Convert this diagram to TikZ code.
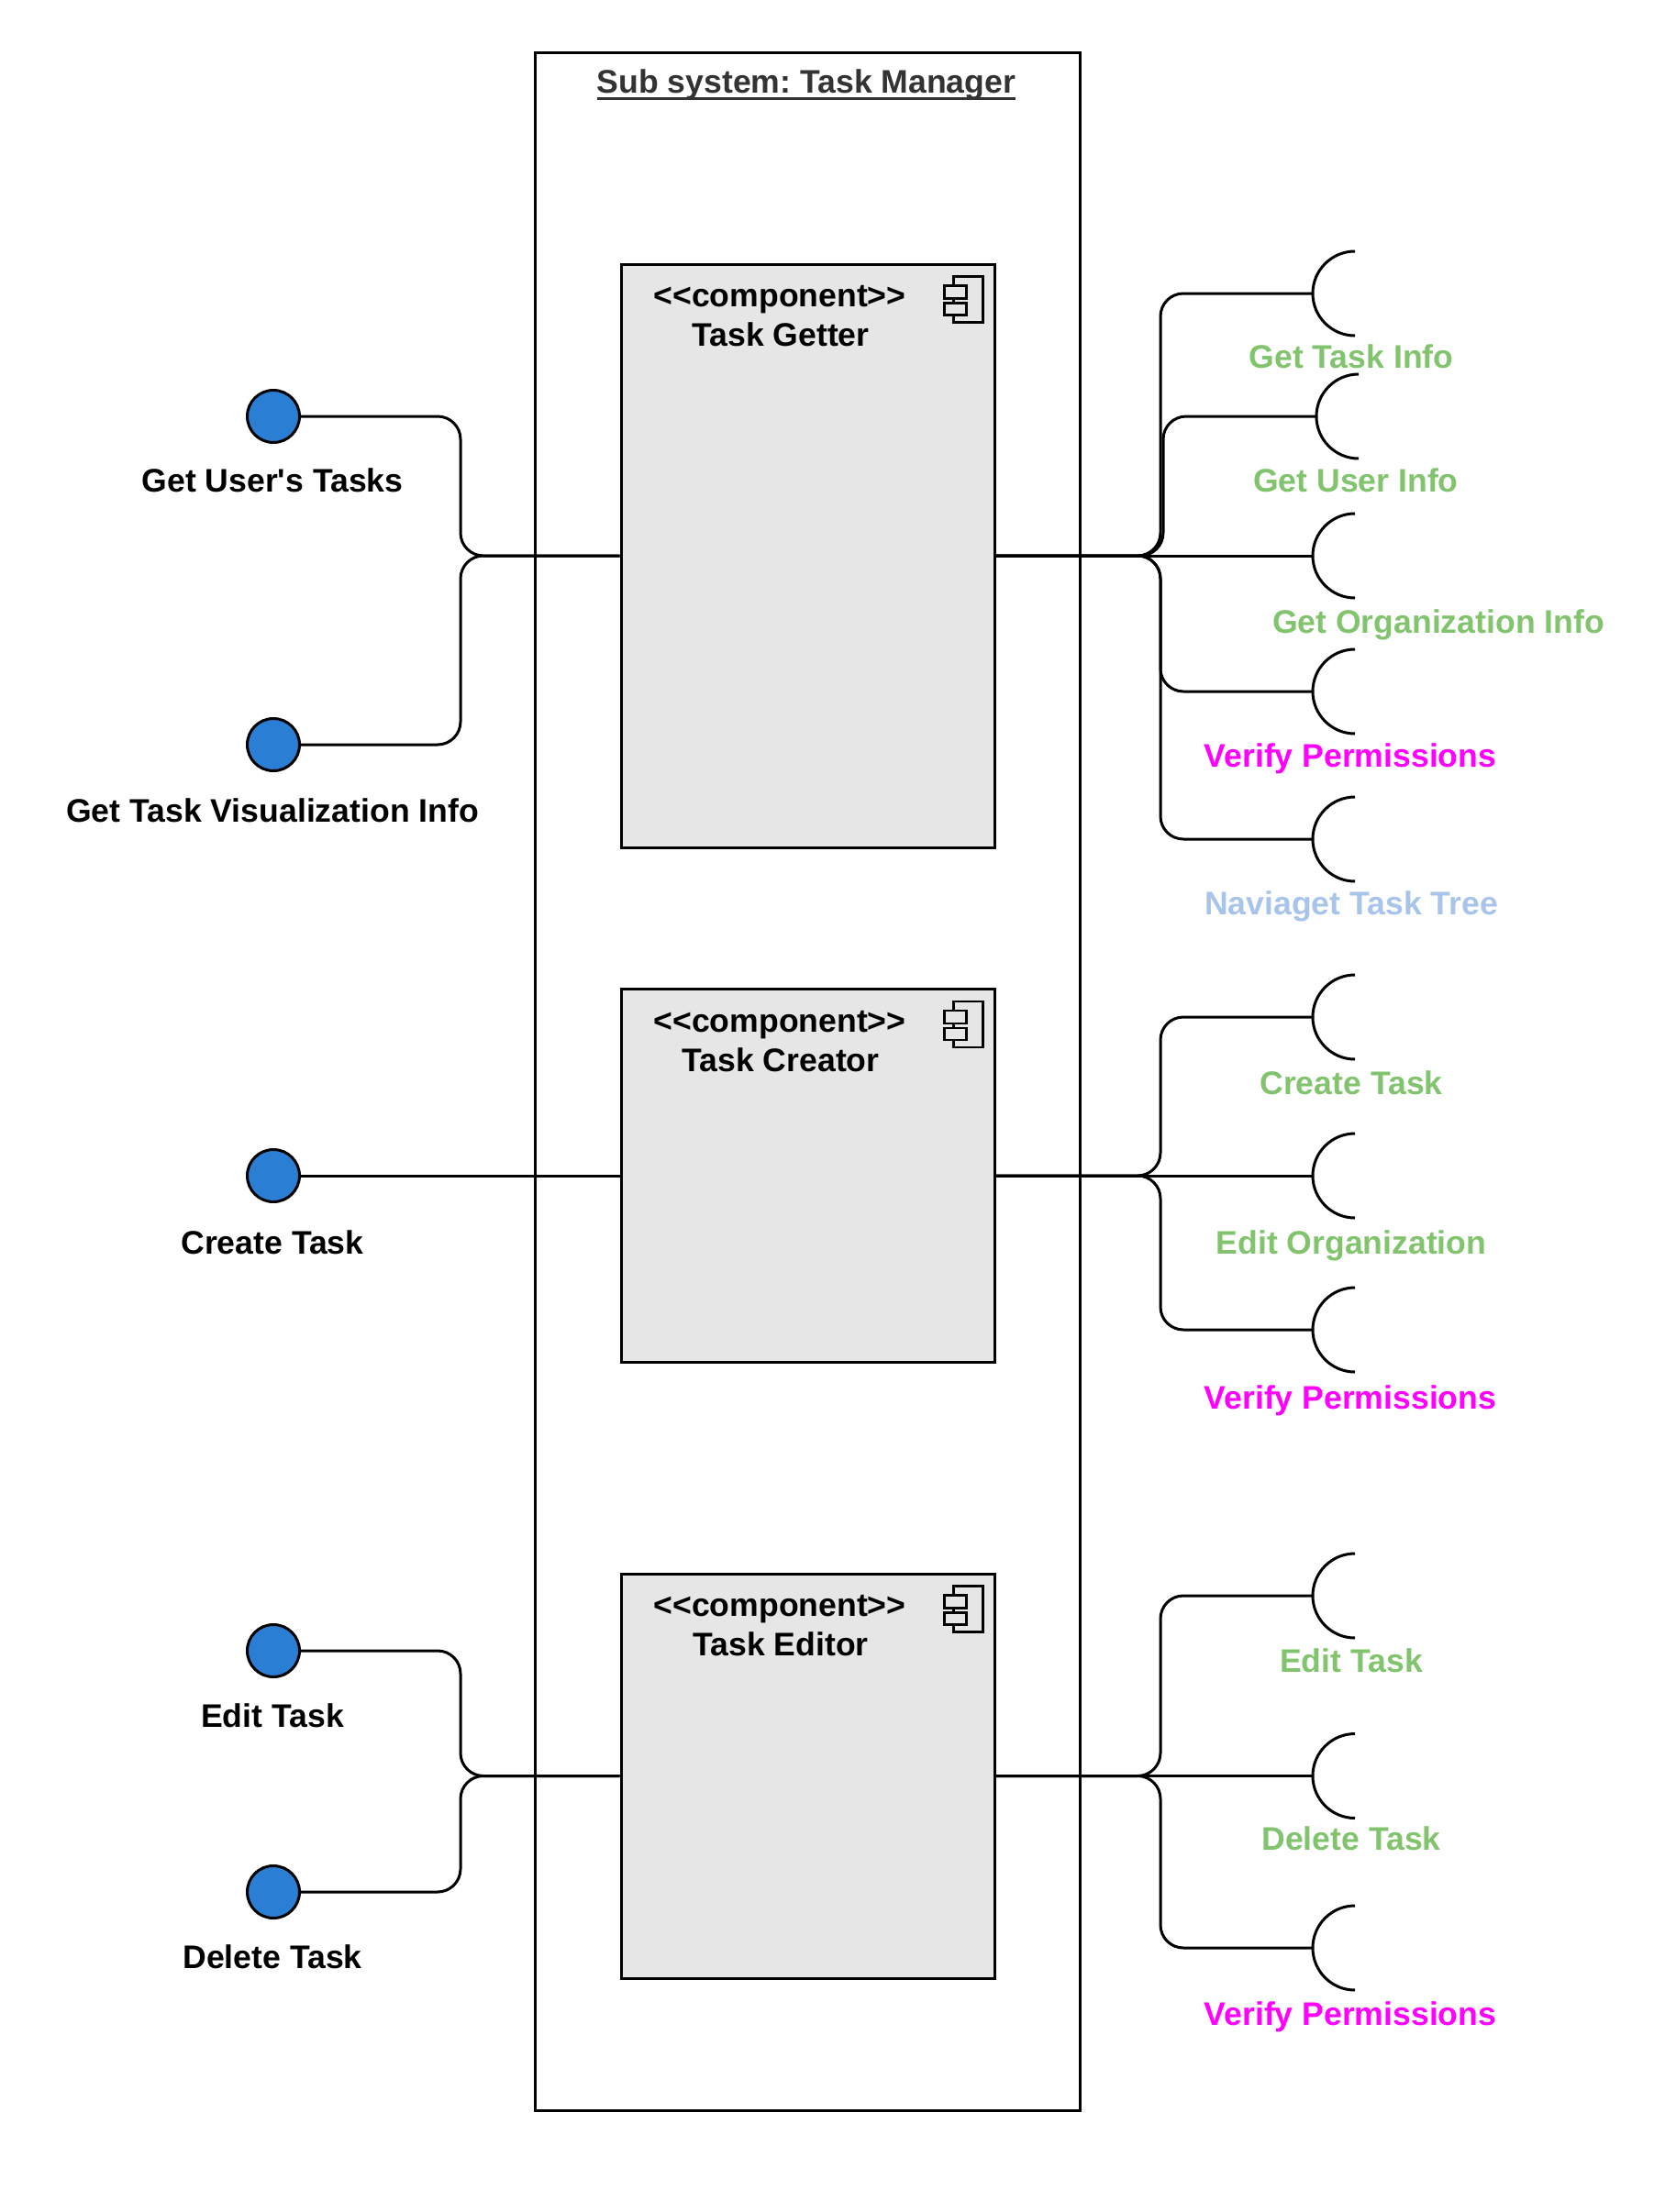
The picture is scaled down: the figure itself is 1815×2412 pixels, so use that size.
\documentclass[tikz,border=0pt]{standalone}
\usepackage{fontspec}
\newfontfamily\lsans{Liberation Sans}
\definecolor{grn}{RGB}{130,196,110}
\definecolor{mag}{RGB}{255,0,255}
\definecolor{lblue}{RGB}{169,196,235}
\definecolor{cblue}{RGB}{42,126,212}
\definecolor{cfill}{RGB}{230,230,230}
\definecolor{ttl}{RGB}{51,51,51}
\frenchspacing
\begin{document}
\begin{tikzpicture}[x=1pt,y=-1pt,
  txt/.style={font=\lsans\bfseries\fontsize{35.6}{42}\selectfont, inner sep=0pt, anchor=base},
  frame/.style={draw, line width=3pt, minimum width=594pt, minimum height=2244pt, inner sep=0pt},
  comp/.style={draw, line width=3pt, fill=cfill, minimum width=407pt, inner sep=0pt},
  port/.style={circle, draw, line width=3pt, fill=cblue, minimum size=57pt, inner sep=0pt},
  wire/.style={line width=3pt, rounded corners=25pt},
  sock/.style={line width=3pt},
  icon/.style={line width=2.5pt, fill=cfill},
  ]
\fill[white] (0,0) rectangle (1815,2412);
\useasboundingbox (0,0) rectangle (1815,2412);

% subsystem frame
\node[frame] (sys) at (880,1179) {};
\node[txt, text=ttl] (title) at (879,101) {Sub system: Task Manager};
\draw[line width=3pt, ttl] ([yshift=-6pt]title.base west) -- ([yshift=-6pt]title.base east);

% components
\node[comp, minimum height=636pt] (c1) at (880.5,606) {};
\node[comp, minimum height=407pt] (c2) at (880.5,1282) {};
\node[comp, minimum height=441pt] (c3) at (880.5,1936.5) {};

\foreach \c/\name in {c1/Task Getter, c2/Task Creator, c3/Task Editor}{
  \node[txt] (\c s) at ([xshift=-30.5pt,yshift=-48pt]\c.north) {<\kern0pt<component>\kern0pt>};
  \node[txt] (\c n) at ([xshift=-29.5pt,yshift=-91pt]\c.north) {\name};
  \draw[icon] ([xshift=-46pt,yshift=-15pt]\c.north east) rectangle ([xshift=-14pt,yshift=-65pt]\c.north east);
  \draw[icon] ([xshift=-56pt,yshift=-25pt]\c.north east) rectangle ([xshift=-32pt,yshift=-39pt]\c.north east);
  \draw[icon] ([xshift=-56pt,yshift=-44pt]\c.north east) rectangle ([xshift=-32pt,yshift=-57pt]\c.north east);
}

% provided interfaces (left)
\node[port] (p1) at (298,454) {};
\node[port] (p2) at (298,812) {};
\node[port] (p3) at (298,1282) {};
\node[port] (p4) at (298,1800) {};
\node[port] (p5) at (298,2063) {};
\node[txt] (lp1) at (297,536) {Get User's Tasks};
\node[txt] (lp2) at (297,896) {Get Task Visualization Info};
\node[txt] (lp3) at (297,1367) {Create Task};
\node[txt] (lp4) at (297,1883) {Edit Task};
\node[txt] (lp5) at (297,2146) {Delete Task};

\draw[wire] (p1.east) -- (502,454) |- (c1.west);
\draw[wire] (p2.east) -- (502,812) |- (c1.west);
\draw[wire] (p3.east) -- (c2.west);
\draw[wire] (p4.east) -- (502,1800) |- (c3.west);
\draw[wire] (p5.east) -- (502,2063) |- (c3.west);

% required interfaces (right)
\coordinate (s11) at (1431,320);
\coordinate (s12) at (1435,454);
\coordinate (s13) at (1431,606);
\coordinate (s14) at (1431,754);
\coordinate (s15) at (1431,915);
\coordinate (s21) at (1431,1109);
\coordinate (s22) at (1431,1282);
\coordinate (s23) at (1431,1450);
\coordinate (s31) at (1431,1740);
\coordinate (s32) at (1431,1936.5);
\coordinate (s33) at (1431,2124);

\foreach \s in {s11,s12,s13,s14,s15,s21,s22,s23,s31,s32,s33}{
  \draw[sock] (\s) arc[start angle=180, end angle=90, radius=46pt]
              (\s) arc[start angle=180, end angle=270, radius=46pt];
}

\draw[wire] (c1.east) -- (1265,606) |- (s11);
\draw[wire] (c1.east) -- (1268,606) |- (s12);
\draw[wire] (c1.east) -- (s13);
\draw[wire] (c1.east) -- (1265,606) |- (s14);
\draw[wire] (c1.east) -- (1265,606) |- (s15);

\draw[wire] (c2.east) -- (1265,1282) |- (s21);
\draw[wire] (c2.east) -- (s22);
\draw[wire] (c2.east) -- (1265,1282) |- (s23);

\draw[wire] (c3.east) -- (1265,1936.5) |- (s31);
\draw[wire] (c3.east) -- (s32);
\draw[wire] (c3.east) -- (1265,1936.5) |- (s33);

\node[txt, text=grn] (l11) at (1473,401) {Get Task Info};
\node[txt, text=grn] (l12) at (1478,536) {Get User Info};
\node[txt, text=grn] (l13) at (1568,690) {Get Organization Info};
\node[txt, text=mag] (l14) at (1472,836) {Verify Permissions};
\node[txt, text=lblue] (l15) at (1473,997) {Naviaget Task Tree};
\node[txt, text=grn] (l21) at (1473,1193) {Create Task};
\node[txt, text=grn] (l22) at (1473,1367) {Edit Organization};
\node[txt, text=mag] (l23) at (1472,1536) {Verify Permissions};
\node[txt, text=grn] (l31) at (1473,1823) {Edit Task};
\node[txt, text=grn] (l32) at (1473,2017) {Delete Task};
\node[txt, text=mag] (l33) at (1472,2208) {Verify Permissions};
\end{tikzpicture}
\end{document}
